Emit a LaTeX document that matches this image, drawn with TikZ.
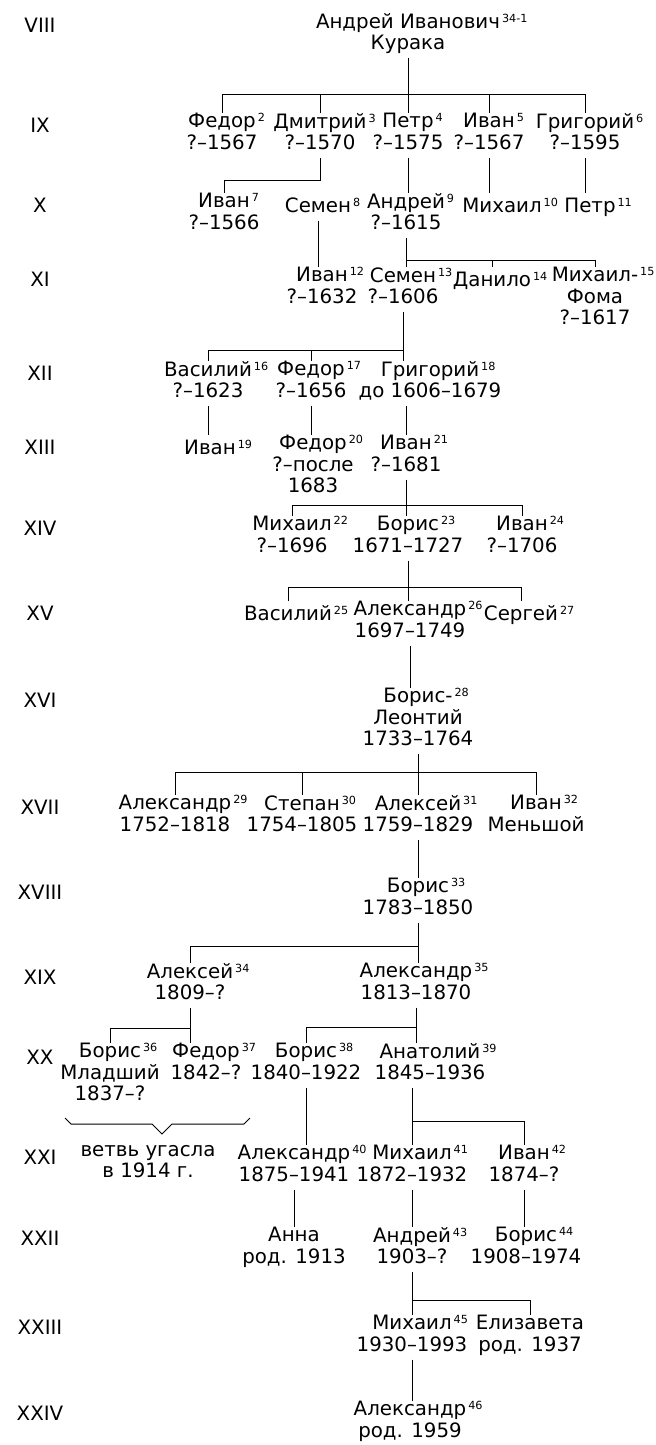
\documentclass[tikz,border=0pt]{standalone}
\usepackage{fontspec}
\setmainfont{DejaVu Sans}
\newcommand{\nr}[1]{\rlap{\kern1pt\raisebox{3pt}{\fontsize{5.6}{6}\selectfont #1}}}

\begin{document}
\begin{tikzpicture}[
  x=0.5pt, y=-0.5pt,
  line width=0.5pt,
  person/.style={
    align=center,
    anchor=north,
    inner sep=0pt,
    font=\fontsize{9.9}{10.6}\selectfont,
    execute at begin node={\rule{0pt}{9.5pt}},
    execute at end node={\rule[-4pt]{0pt}{4pt}}
  },
  gen/.style={person}
]

\useasboundingbox (0,0) rectangle (655,1445);

\node[gen] (g8) at (40,13) {VIII};
\node[gen] (g9) at (40,113) {IX};
\node[gen] (g10) at (40,193) {X};
\node[gen] (g11) at (40,267) {XI};
\node[gen] (g12) at (40,361) {XII};
\node[gen] (g13) at (40,435) {XIII};
\node[gen] (g14) at (40,516) {XIV};
\node[gen] (g15) at (40,601) {XV};
\node[gen] (g16) at (40,688) {XVI};
\node[gen] (g17) at (40,795) {XVII};
\node[gen] (g18) at (40,880) {XVIII};
\node[gen] (g19) at (40,965) {XIX};
\node[gen] (g20) at (40,1045) {XX};
\node[gen] (g21) at (40,1145) {XXI};
\node[gen] (g22) at (40,1226) {XXII};
\node[gen] (g23) at (40,1315) {XXIII};
\node[gen] (g24) at (40,1401) {XXIV};

\node[person] (kuraka) at (408,13) {Андрей Иванович\nr{34-1}\\Курака};

\node[person] (fedor2) at (222,113) {Федор\nr{2}\\?–1567};
\node[person] (dmitrii3) at (320,113) {Дмитрий\nr{3}\\?–1570};
\node[person] (petr4) at (408,113) {Петр\nr{4}\\?–1575};
\node[person] (ivan5) at (489,113) {Иван\nr{5}\\?–1567};
\node[person] (grigorii6) at (585,113) {Григорий\nr{6}\\?–1595};

\node[person] (ivan7) at (224,193) {Иван\nr{7}\\?–1566};
\node[person] (semen8) at (318,193) {Семен\nr{8}};
\node[person] (andrei9) at (406,193) {Андрей\nr{9}\\?–1615};
\node[person] (mikhail10) at (502,193) {Михаил\nr{10}};
\node[person] (petr11) at (590,193) {Петр\nr{11}};

\node[person] (ivan12) at (322,267) {Иван\nr{12}\\?–1632};
\node[person] (semen13) at (403,267) {Семен\nr{13}\\?–1606};
\node[person] (danilo14) at (492,267) {Данило\nr{14}};
\node[person] (mikhail15) at (595,267) {Михаил-\nr{15}\\Фома\\?–1617};

\node[person] (vasilii16) at (208,361) {Василий\nr{16}\\?–1623};
\node[person] (fedor17) at (311,361) {Федор\nr{17}\\?–1656};
\node[person] (grigorii18) at (430,361) {Григорий\nr{18}\\до 1606–1679};

\node[person] (ivan19) at (210,435) {Иван\nr{19}};
\node[person] (fedor20) at (313,435) {Федор\nr{20}\\?–после\\1683};
\node[person] (ivan21) at (406,435) {Иван\nr{21}\\?–1681};

\node[person] (mikhail22) at (292,516) {Михаил\nr{22}\\?–1696};
\node[person] (boris23) at (408,516) {Борис\nr{23}\\1671–1727};
\node[person] (ivan24) at (522,516) {Иван\nr{24}\\?–1706};

\node[person] (vasilii25) at (288,601) {Василий\nr{25}};
\node[person] (aleksandr26) at (410,601) {Александр\nr{26}\\1697–1749};
\node[person] (sergei27) at (521,601) {Сергей\nr{27}};

\node[person] (boris28) at (418,688) {Борис-\nr{28}\\Леонтий\\1733–1764};

\node[person] (aleksandr29) at (175,795) {Александр\nr{29}\\1752–1818};
\node[person] (stepan30) at (302,795) {Степан\nr{30}\\1754–1805};
\node[person] (aleksei31) at (418,795) {Алексей\nr{31}\\1759–1829};
\node[person] (ivan32) at (536,795) {Иван\nr{32}\\Меньшой};

\node[person] (boris33) at (418,878) {Борис\nr{33}\\1783–1850};

\node[person] (aleksei34) at (190,963) {Алексей\nr{34}\\1809–?};
\node[person] (aleksandr35) at (416,963) {Александр\nr{35}\\1813–1870};

\node[person] (boris36) at (110,1043) {Борис\nr{36}\\Младший\\1837–?};
\node[person] (fedor37) at (206,1043) {Федор\nr{37}\\1842–?};
\node[person] (boris38) at (306,1043) {Борис\nr{38}\\1840–1922};
\node[person] (anatolii39) at (430,1043) {Анатолий\nr{39}\\1845–1936};

\node[person] (extinct) at (148,1145) {ветвь угасла\\в 1914 г.};
\node[person] (aleksandr40) at (294,1145) {Александр\nr{40}\\1875–1941};
\node[person] (mikhail41) at (412,1145) {Михаил\nr{41}\\1872–1932};
\node[person] (ivan42) at (524,1145) {Иван\nr{42}\\1874–?};

\node[person] (anna) at (294,1227) {Анна\\род. 1913};
\node[person] (andrei43) at (412,1227) {Андрей\nr{43}\\1903–?};
\node[person] (boris44) at (526,1227) {Борис\nr{44}\\1908–1974};

\node[person] (mikhail45) at (412,1315) {Михаил\nr{45}\\1930–1993};
\node[person] (elizaveta) at (530,1315) {Елизавета\\род. 1937};

\node[person] (aleksandr46) at (410,1401) {Александр\nr{46}\\род. 1959};

\coordinate (b8) at (0,95);
\coordinate (b3) at (0,180);
\coordinate (b9) at (0,260);
\coordinate (b13) at (0,350);
\coordinate (b21) at (0,505);
\coordinate (b23) at (0,587);
\coordinate (b28) at (0,772);
\coordinate (b33) at (0,946);
\coordinate (b34) at (0,1028);
\coordinate (b35) at (0,1027);
\coordinate (b39) at (0,1121);
\coordinate (b43) at (0,1300);

\draw (kuraka.south) -- (kuraka.south |- petr4.north);
\draw (fedor2.north) -- (fedor2.north |- b8) -- (grigorii6.north |- b8) -- (grigorii6.north);
\draw (dmitrii3.north |- b8) -- (dmitrii3.north);
\draw (ivan5.north |- b8) -- (ivan5.north);

\draw (dmitrii3.south) -- (dmitrii3.south |- b3) -- (ivan7.north |- b3) -- (ivan7.north);
\draw (petr4.south) -- (petr4.south |- andrei9.north);
\draw (ivan5.south) -- (ivan5.south |- mikhail10.north);
\draw (grigorii6.south) -- (grigorii6.south |- petr11.north);

\draw (semen8.south) -- (semen8.south |- ivan12.north);
\draw (andrei9.south) -- (andrei9.south |- semen13.north);
\draw (andrei9.south |- b9) -- (mikhail15.north |- b9) -- (mikhail15.north);
\draw (danilo14.north |- b9) -- (danilo14.north);

\draw (semen13.south) -- (semen13.south |- grigorii18.north);
\draw (semen13.south |- b13) -- (vasilii16.north |- b13) -- (vasilii16.north);
\draw (fedor17.north |- b13) -- (fedor17.north);

\draw (vasilii16.south) -- (vasilii16.south |- ivan19.north);
\draw (fedor17.south) -- (fedor17.south |- fedor20.north);
\draw (ivan21.north |- grigorii18.south) -- (ivan21.north);

\draw (ivan21.south) -- (ivan21.south |- boris23.north);
\draw (mikhail22.north) -- (mikhail22.north |- b21) -- (ivan24.north |- b21) -- (ivan24.north);

\draw (boris23.south) -- (boris23.south |- aleksandr26.north);
\draw (vasilii25.north) -- (vasilii25.north |- b23) -- (sergei27.north |- b23) -- (sergei27.north);

\draw (aleksandr26.south) -- (aleksandr26.south |- boris28.north);

\draw (boris28.south) -- (boris28.south |- aleksei31.north);
\draw (aleksandr29.north) -- (aleksandr29.north |- b28) -- (ivan32.north |- b28) -- (ivan32.north);
\draw (stepan30.north |- b28) -- (stepan30.north);

\draw (aleksei31.south) -- (aleksei31.south |- boris33.north);

\draw (boris33.south) -- (boris33.south |- aleksandr35.north);
\draw (boris33.south |- b33) -- (aleksei34.north |- b33) -- (aleksei34.north);

\draw (aleksei34.south) -- (aleksei34.south |- fedor37.north);
\draw (aleksei34.south |- b34) -- (boris36.north |- b34) -- (boris36.north);
\draw (aleksandr35.south) -- (aleksandr35.south |- anatolii39.north);
\draw (aleksandr35.south |- b35) -- (boris38.north |- b35) -- (boris38.north);

\draw (65,1118) -- (71,1124) -- (152,1124) -- (162,1134) -- (172,1124) -- (244,1124) -- (250,1118);

\draw (boris38.south) -- (boris38.south |- aleksandr40.north);
\draw (mikhail41.north |- anatolii39.south) -- (mikhail41.north);
\draw (mikhail41.north |- b39) -- (ivan42.north |- b39) -- (ivan42.north);

\draw (aleksandr40.south) -- (aleksandr40.south |- anna.north);
\draw (mikhail41.south) -- (mikhail41.south |- andrei43.north);
\draw (ivan42.south) -- (ivan42.south |- boris44.north);

\draw (andrei43.south) -- (andrei43.south |- mikhail45.north);
\draw (andrei43.south |- b43) -- (elizaveta.north |- b43) -- (elizaveta.north);

\draw (mikhail45.south) -- (mikhail45.south |- aleksandr46.north);

\end{tikzpicture}
\end{document}
